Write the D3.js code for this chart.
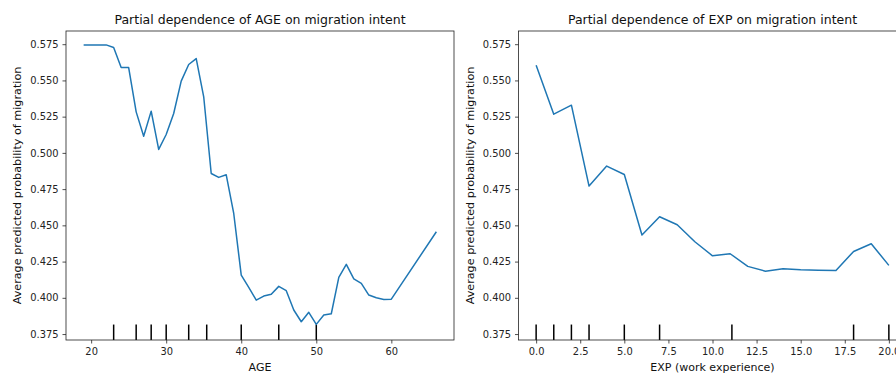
<!DOCTYPE html>
<html>
<head>
<meta charset="utf-8">
<script src="https://cdn.jsdelivr.net/npm/d3@7"></script>
<style>
  html, body { margin: 0; padding: 0; background: #fff; }
  svg { display: block; font-family: "DejaVu Sans", sans-serif; }
</style>
</head>
<body>
<svg id="chart" width="896" height="374"></svg>
<script>
// Partial dependence of AGE
const ageGrid = [19, 20, 21, 22, 23, 24, 25, 26, 27, 28, 29, 30, 31, 32, 33, 34, 35, 36, 37, 38, 39,
  40, 41, 42, 43, 44, 45, 46, 47, 48, 49, 50, 51, 52, 53, 54, 55, 56, 57, 58, 59, 60, 66];
const agePD = [0.5745, 0.5745, 0.5745, 0.5745, 0.5727, 0.5589, 0.5589, 0.5283, 0.5115, 0.5288, 0.5024,
  0.5127, 0.5272, 0.5495, 0.5610, 0.5651, 0.5387, 0.4858, 0.4831, 0.4849, 0.4582,
  0.4157, 0.4072, 0.3984, 0.4012, 0.4024, 0.4079, 0.4049, 0.3916, 0.3835, 0.3900, 0.3817,
  0.3881, 0.3890, 0.4141, 0.4231, 0.4131, 0.4100, 0.4019, 0.4000, 0.3989, 0.3991, 0.4456];
const ageDeciles = [23, 26, 28, 30, 33, 35.4, 40, 45, 50];
const ageTicks = [20, 30, 40, 50, 60];

// Partial dependence of EXP (work experience)
const expGrid = [0, 1, 2, 3, 4, 5, 6, 7, 8, 9, 10, 11, 12, 13, 14, 15, 16, 17, 18, 19, 20];
const expPD = [0.5605, 0.5267, 0.5329, 0.4771, 0.4909, 0.4851, 0.4433, 0.4559, 0.4504, 0.4387, 0.4290,
  0.4304, 0.4217, 0.4184, 0.4200, 0.4193, 0.4191, 0.4189, 0.4320, 0.4373, 0.4224];
const expDeciles = [0, 1, 2, 3, 5, 7, 11.1, 18, 20];
const expTicks = [0, 2.5, 5, 7.5, 10, 12.5, 15, 17.5, 20];

// Shared y axis
const yTicks = [0.375, 0.400, 0.425, 0.450, 0.475, 0.500, 0.525, 0.550, 0.575];
const yDomain = [0.3709, 0.5841];

const svg = d3.select("#chart");
svg.append("rect").attr("width", 896).attr("height", 374).attr("fill", "#fff");

const plotTop = 31, plotBottom = 340;
const y = d3.scaleLinear().domain(yDomain).range([plotBottom, plotTop]);

function panel(opts) {
  const { left, right, xDomain, grid, values, deciles, xTicks, xFmt, title, xLabel, yLabelX } = opts;
  const x = d3.scaleLinear().domain(xDomain).range([left, right]);
  const g = svg.append("g");

  // deciles rug along the bottom (5% of the axes height)
  const rugTop = plotBottom - (plotBottom - plotTop) * 0.05;
  g.append("g").selectAll("line").data(deciles).join("line")
    .attr("x1", d => x(d)).attr("x2", d => x(d))
    .attr("y1", plotBottom).attr("y2", rugTop)
    .attr("stroke", "#000").attr("stroke-width", 1.5);

  // partial dependence curve
  const line = d3.line().x((d, i) => x(grid[i])).y(d => y(d));
  g.append("path").datum(values)
    .attr("d", line)
    .attr("fill", "none")
    .attr("stroke", "#1f77b4")
    .attr("stroke-width", 1.5)
    .attr("stroke-linejoin", "round");

  // axes
  const xAxis = d3.axisBottom(x).tickValues(xTicks).tickFormat(xFmt).tickSizeOuter(0).tickSize(3.5).tickPadding(4);
  const yAxis = d3.axisLeft(y).tickValues(yTicks).tickFormat(d3.format(".3f")).tickSizeOuter(0).tickSize(3.5).tickPadding(4);

  const gx = g.append("g").attr("transform", `translate(0,${plotBottom})`).call(xAxis);
  const gy = g.append("g").attr("transform", `translate(${left},0)`).call(yAxis);
  [gx, gy].forEach(a => {
    a.select(".domain").remove();
    a.selectAll(".tick line").attr("stroke", "#222").attr("stroke-width", 0.8);
    a.selectAll(".tick text").attr("fill", "#222").attr("font-size", "9.9px")
      .attr("font-family", "DejaVu Sans, sans-serif");
  });

  // frame
  g.append("rect")
    .attr("x", left).attr("y", plotTop)
    .attr("width", right - left).attr("height", plotBottom - plotTop)
    .attr("fill", "none").attr("stroke", "#222").attr("stroke-width", 0.8);

  // title
  g.append("text")
    .attr("x", (left + right) / 2).attr("y", 24)
    .attr("text-anchor", "middle")
    .attr("font-size", "12.5px").attr("fill", "#111")
    .text(title);

  // x label
  g.append("text")
    .attr("x", (left + right) / 2).attr("y", 371)
    .attr("text-anchor", "middle")
    .attr("font-size", "11px").attr("fill", "#111")
    .text(xLabel);

  // y label
  g.append("text")
    .attr("transform", `translate(${yLabelX},${(plotTop + plotBottom) / 2}) rotate(-90)`)
    .attr("text-anchor", "middle")
    .attr("font-size", "11.2px").attr("fill", "#111")
    .text("Average predicted probability of migration");
}

panel({
  left: 66, right: 454,
  xDomain: [16.65, 68.35],
  grid: ageGrid, values: agePD, deciles: ageDeciles,
  xTicks: ageTicks, xFmt: d3.format("d"),
  title: "Partial dependence of AGE on migration intent",
  xLabel: "AGE",
  yLabelX: 21
});

panel({
  left: 518.5, right: 906.5,
  xDomain: [-1, 21],
  grid: expGrid, values: expPD, deciles: expDeciles,
  xTicks: expTicks, xFmt: d3.format(".1f"),
  title: "Partial dependence of EXP on migration intent",
  xLabel: "EXP (work experience)",
  yLabelX: 474
});
</script>
</body>
</html>
